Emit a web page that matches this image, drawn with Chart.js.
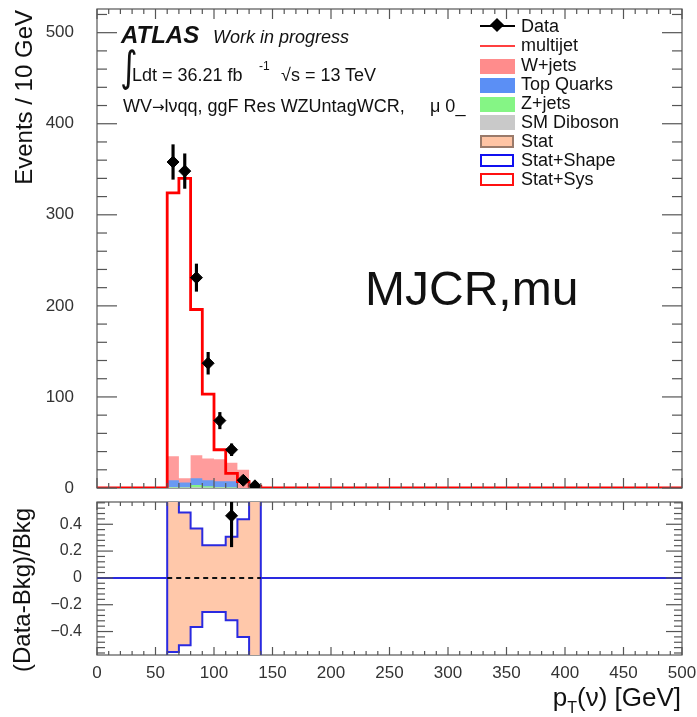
<!DOCTYPE html>
<html>
<head>
<meta charset="utf-8">
<script src="https://cdn.jsdelivr.net/npm/chart.js@4.4.1/dist/chart.umd.min.js"></script>
<style>
  body { margin: 0; background: #fff; width: 697px; height: 717px; overflow: hidden; position: relative;
         font-family: "Liberation Sans", Arial, sans-serif; color: #111; }
  canvas { position: absolute; left: 0; }
  #mainChart { top: 0; }
  #ratioChart { top: 495px; }
  .t { position: absolute; white-space: nowrap; line-height: 1; }
  .rot { transform-origin: left top; transform: rotate(-90deg); }
  .sw { position: absolute; box-sizing: border-box; }
</style>
</head>
<body>
<canvas id="mainChart" width="697" height="495"></canvas>
<canvas id="ratioChart" width="697" height="222"></canvas>

<!-- axis titles -->
<div class="t rot" style="left:12px;top:310px;width:300px;text-align:right;font-size:24px;">Events / 10 GeV</div>
<div class="t rot" style="left:10px;top:740px;width:300px;text-align:center;font-size:24px;">(Data-Bkg)/Bkg</div>
<div class="t" style="right:16px;top:684px;font-size:26px;">p<sub style="font-size:16px;vertical-align:-7px;">T</sub>(ν) [GeV]</div>

<!-- ATLAS labels -->
<div class="t" style="left:121px;top:23px;font-size:24px;font-style:italic;font-weight:bold;">ATLAS</div>
<div class="t" style="left:213px;top:28px;font-size:18px;font-style:italic;">Work in progress</div>
<div class="t" style="left:118px;top:46px;font-size:42px;font-family:'DejaVu Sans';transform:scaleX(0.8);">∫</div>
<div class="t" style="left:132px;top:66px;font-size:18px;">Ldt = 36.21 fb</div>
<div class="t" style="left:259px;top:60px;font-size:12px;">-1</div>
<div class="t" style="left:281px;top:66px;font-size:18px;">√s = 13 TeV</div>
<div class="t" style="left:123px;top:97px;font-size:18px;">WV<span style="font-family:'DejaVu Sans';font-size:15px;">→</span>lνqq, ggF Res WZUntagWCR,</div>
<div class="t" style="left:430px;top:97px;font-size:18px;">μ 0_</div>
<div class="t" style="left:365px;top:265px;font-size:48px;">MJCR,mu</div>

<!-- legend -->
<div class="sw" style="left:480px;top:25px;width:35px;height:2px;background:#000;"></div>
<div class="sw" style="left:492px;top:20px;width:10px;height:10px;background:#000;transform:rotate(45deg);"></div>
<div class="t" style="left:521px;top:17px;font-size:18px;">Data</div>
<div class="sw" style="left:480px;top:45px;width:35px;height:1.5px;background:#ff4040;"></div>
<div class="t" style="left:521px;top:36px;font-size:18px;">multijet</div>
<div class="sw" style="left:480px;top:59px;width:35px;height:15px;background:#ff8c8c;"></div>
<div class="t" style="left:521px;top:56px;font-size:18px;">W+jets</div>
<div class="sw" style="left:480px;top:78px;width:35px;height:15px;background:#5b8ff5;"></div>
<div class="t" style="left:521px;top:75px;font-size:18px;">Top Quarks</div>
<div class="sw" style="left:480px;top:97px;width:35px;height:15px;background:#85f585;"></div>
<div class="t" style="left:521px;top:94px;font-size:18px;">Z+jets</div>
<div class="sw" style="left:480px;top:115px;width:35px;height:15px;background:#c9c9c9;"></div>
<div class="t" style="left:521px;top:113px;font-size:18px;">SM Diboson</div>
<div class="sw" style="left:480px;top:135px;width:34px;height:13px;background:#ffc4a4;border:2px solid #9a7a6a;"></div>
<div class="t" style="left:521px;top:132px;font-size:18px;">Stat</div>
<div class="sw" style="left:480px;top:154px;width:34px;height:13px;border:2px solid #1010f0;"></div>
<div class="t" style="left:521px;top:151px;font-size:18px;">Stat+Shape</div>
<div class="sw" style="left:480px;top:173px;width:34px;height:13px;border:2px solid #ff1010;"></div>
<div class="t" style="left:521px;top:170px;font-size:18px;">Stat+Sys</div>

<script>
// bins of 10 GeV, lower edges plus the last upper edge
const binEdges = [60, 70, 80, 90, 100, 110, 120, 130, 140];

// data (bin centres)
const dataCenters = [65, 75, 85, 95, 105, 115, 125, 135];
const dataValues = [358, 348, 231, 137, 74, 42, 8.5, 2.4];
const dataErrors = [19, 19, 15, 12, 9, 6.5, 3, 1.5];

// backgrounds per bin (60..140)
const multijetValues = [324, 340, 196, 103, 42, 16, 7, 2];
const wjetsValues = [26.5, 4.7, 25.3, 24, 24, 20.3, 20, 0];
const topValues = [7.5, 5.2, 7.4, 6.7, 6.4, 6.7, 0, 0];
const zjetsValues = [0.5, 0.3, 2.5, 1.2, 0.6, 0.4, 0, 0];
const dibosonValues = [0.5, 0.5, 0.8, 0.6, 0.5, 0.4, 0, 0];

// ratio panel bands per bin (60..140)
const bandUp = [0.8, 0.488, 0.369, 0.244, 0.244, 0.306, 0.438, 0.8];
const bandDown = [-0.552, -0.502, -0.366, -0.254, -0.254, -0.316, -0.44, -0.8];
const ratioX = [115];
const ratioY = [0.463];
const ratioErrLo = [0.232];
const ratioErrHi = [0.7];

const FONT = "'Liberation Sans', Arial, sans-serif";

function steps(values, lead, tail) {
    const pts = lead ? lead.slice() : [];
    values.forEach((v, i) => pts.push({ x: binEdges[i], y: v }));
    pts.push({ x: binEdges[binEdges.length - 1], y: values[values.length - 1] });
    if (tail) tail.forEach(p => pts.push(p));
    return pts;
}

function cumulate(...arrs) {
    return arrs[0].map((_, i) => arrs.reduce((s, a) => s + a[i], 0));
}

// no automatic label padding, fixed axis width
function fixY(s) { s.width = 67; s.paddingTop = 0; s.paddingBottom = 0; }
function fixX(s) { s.height = 30; s.paddingLeft = 0; s.paddingRight = 0; }

// inward ROOT-style ticks and frame
const rootFrame = {
    id: "rootFrame",
    beforeDatasetsDraw(chart) {
        const { ctx, chartArea: a } = chart;
        ctx.save();
        ctx.strokeStyle = "#555";
        ctx.lineWidth = 1.2;
        ctx.strokeRect(a.left, a.top, a.width, a.height);
        ctx.restore();
    },
    afterDatasetsDraw(chart, args, o) {
        const { ctx, chartArea: a, scales } = chart;
        const xs = scales.x, ys = scales.y;
        ctx.save();
        ctx.strokeStyle = "#555";
        ctx.lineWidth = 1.2;
        const seg = (x1, y1, x2, y2) => { ctx.beginPath(); ctx.moveTo(x1, y1); ctx.lineTo(x2, y2); ctx.stroke(); };
        const isMajor = (v, m) => Math.abs(v / m - Math.round(v / m)) < 1e-6;
        for (let i = Math.ceil(xs.min / o.xMinor - 1e-9); i * o.xMinor <= xs.max + 1e-9; i++) {
            const v = i * o.xMinor, px = xs.getPixelForValue(v);
            const len = isMajor(v, o.xMajor) ? o.xMajorLen : o.xMinorLen;
            seg(px, a.bottom, px, a.bottom - len);
            seg(px, a.top, px, a.top + len);
        }
        for (let i = Math.ceil(ys.min / o.yMinor - 1e-9); i * o.yMinor <= ys.max + 1e-9; i++) {
            const v = i * o.yMinor, py = ys.getPixelForValue(v);
            const len = isMajor(v, o.yMajor) ? o.yMajorLen : o.yMinorLen;
            seg(a.left, py, a.left + len, py);
            seg(a.right, py, a.right - len, py);
        }
        ctx.restore();
    }
};

const wTop = cumulate(dibosonValues, zjetsValues, topValues, wjetsValues);
const tTop = cumulate(dibosonValues, zjetsValues, topValues);
const zTop = cumulate(dibosonValues, zjetsValues);

const fillSet = (values, color, order) => ({
    data: steps(values), stepped: "before", fill: "origin", backgroundColor: color,
    borderColor: "rgba(0,0,0,0)", borderWidth: 0, pointRadius: 0, order
});

new Chart(document.getElementById("mainChart"), {
    type: "line",
    data: {
        datasets: [
            {
                data: dataCenters.map((x, i) => ({ x, y: dataValues[i] })),
                showLine: false, pointStyle: "rectRot", pointRadius: 6,
                pointBackgroundColor: "#000", pointBorderColor: "#000", order: 0
            },
            {
                type: "bar",
                data: dataCenters.map((x, i) => ({ x, y: [dataValues[i] - dataErrors[i], dataValues[i] + dataErrors[i]] })),
                backgroundColor: "#000", barThickness: 2.5, borderWidth: 0, order: 1
            },
            {
                data: steps(multijetValues, [{ x: 0, y: 0 }], [{ x: 140, y: 0 }, { x: 500, y: 0 }]),
                stepped: "before", borderColor: "#ff0000", borderWidth: 2.8, pointRadius: 0, fill: false, order: 2
            },
            fillSet(dibosonValues, "#c9c9c9", 3),
            fillSet(zTop, "#85f585", 4),
            fillSet(tTop, "#6a9af2", 5),
            fillSet(wTop, "#ff9c9c", 6)
        ]
    },
    options: {
        responsive: false,
        animation: false,
        events: [],
        layout: { padding: { left: 30, right: 15, top: 9, bottom: 5 } },
        scales: {
            x: { type: "linear", min: 0, max: 500, offset: false, display: false },
            y: {
                min: 0, max: 526,
                afterFit: fixY,
                grid: { display: false }, border: { display: false },
                ticks: { stepSize: 100, includeBounds: false, padding: 15, color: "#333", font: { family: FONT, size: 17 } }
            }
        },
        plugins: {
            legend: { display: false }, tooltip: { enabled: false },
            rootFrame: { xMinor: 10, xMajor: 50, xMinorLen: 5, xMajorLen: 10, yMinor: 20, yMajor: 100, yMinorLen: 10, yMajorLen: 20 }
        }
    },
    plugins: [rootFrame]
});

new Chart(document.getElementById("ratioChart"), {
    type: "line",
    data: {
        datasets: [
            {
                data: ratioX.map((x, i) => ({ x, y: ratioY[i] })),
                showLine: false, pointStyle: "rectRot", pointRadius: 6,
                pointBackgroundColor: "#000", pointBorderColor: "#000", order: 0
            },
            {
                type: "bar",
                data: ratioX.map((x, i) => ({ x, y: [ratioErrLo[i], ratioErrHi[i]] })),
                backgroundColor: "#000", barThickness: 2.5, borderWidth: 0, order: 1
            },
            {
                data: [{ x: 60, y: 0 }, { x: 140, y: 0 }],
                borderColor: "#111", borderWidth: 2, borderDash: [5, 4], pointRadius: 0, fill: false, order: 2
            },
            {
                data: steps(bandUp, [{ x: 60, y: -1 }], [{ x: 140, y: -1 }]),
                stepped: "before", borderColor: "#2a2ae0", borderWidth: 2, pointRadius: 0, fill: false, order: 3
            },
            {
                data: steps(bandDown),
                stepped: "before", borderColor: "#2a2ae0", borderWidth: 2, pointRadius: 0, fill: false, order: 4
            },
            {
                data: [{ x: 0, y: 0 }, { x: 60, y: 0 }, { x: 100, y: null }, { x: 140, y: 0 }, { x: 500, y: 0 }],
                borderColor: "#2a2ae0", borderWidth: 2, pointRadius: 0, fill: false, spanGaps: false, order: 5
            },
            fillSet(bandUp, "#ffc8aa", 6),
            fillSet(bandDown, "#ffc8aa", 7)
        ]
    },
    options: {
        responsive: false,
        animation: false,
        events: [],
        layout: { padding: { left: 30, right: 15, top: 7, bottom: 32 } },
        scales: {
            x: {
                type: "linear", min: 0, max: 500, offset: false,
                afterFit: fixX,
                grid: { display: false }, border: { display: false },
                ticks: { stepSize: 50, autoSkip: false, maxRotation: 0, padding: 0, color: "#333", font: { family: FONT, size: 17 } }
            },
            y: {
                min: -0.575, max: 0.566,
                afterFit: fixY,
                grid: { display: false }, border: { display: false },
                ticks: {
                    stepSize: 0.2, includeBounds: false, padding: 7, color: "#333", font: { family: FONT, size: 16 },
                    callback: v => {
                        const r = Math.round(v * 10) / 10;
                        if (r === 0) return "0";
                        return (r < 0 ? "\u2212" : "") + Math.abs(r).toFixed(1);
                    }
                }
            }
        },
        plugins: {
            legend: { display: false }, tooltip: { enabled: false },
            rootFrame: { xMinor: 10, xMajor: 50, xMinorLen: 4, xMajorLen: 8, yMinor: 0.04, yMajor: 0.2, yMinorLen: 8, yMajorLen: 16 }
        }
    },
    plugins: [rootFrame]
});
</script>
</body>
</html>
